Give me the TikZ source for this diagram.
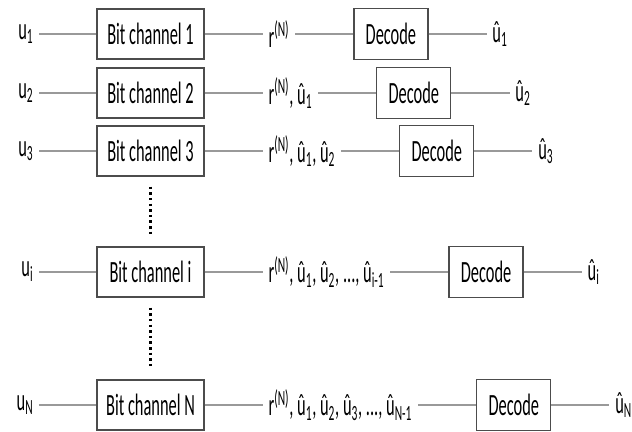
\documentclass[tikz,border=0pt]{standalone}
\usepackage{fontspec}
\setmainfont[FakeStretch=0.53]{Carlito}
\usetikzlibrary{positioning}

\tikzset{
  blk/.style={draw=black!70, line width=0.9pt, minimum width=2.675cm, minimum height=1.25cm, font=\fontsize{22}{24}\selectfont},
  decbox/.style={blk, minimum width=1.85cm, minimum height=1.275cm},
  lbl/.style={inner sep=4pt, font=\fontsize{22}{24}\selectfont},
  wire/.style={draw=black!40, line width=0.8pt},
  vdots/.style={line width=1.8pt, dash pattern=on 1.8pt off 2.2pt, shorten <=0.25cm, shorten >=0.28cm},
}

\begin{document}
\begin{tikzpicture}[x=0.025cm, y=-0.025cm]

\useasboundingbox (0,0) rectangle (632,432);

% 1st row
\node[blk] (bc1) at (150.5,34) {Bit channel 1};
\node[lbl, left=1.425cm of bc1] (u1) {u\textsubscript{1}};
\node[lbl, right=1.45cm of bc1] (r1) {r\textsuperscript{(N)}};
\node[decbox, right=1.45cm of r1] (dec1) {Decode};
\node[lbl, right=1.45cm of dec1] (o1) {û\textsubscript{1}};
\draw[wire] (u1) -- (bc1) -- (r1) -- (dec1) -- (o1);

% 2nd row
\node[blk] (bc2) at (150.5,93) {Bit channel 2};
\node[lbl, left=1.425cm of bc2] (u2) {u\textsubscript{2}};
\node[lbl, right=1.45cm of bc2] (r2) {r\textsuperscript{(N)}, û\textsubscript{1}};
\node[decbox, right=1.45cm of r2] (dec2) {Decode};
\node[lbl, right=1.45cm of dec2] (o2) {û\textsubscript{2}};
\draw[wire] (u2) -- (bc2) -- (r2) -- (dec2) -- (o2);

% 3rd row
\node[blk] (bc3) at (150.5,151) {Bit channel 3};
\node[lbl, left=1.425cm of bc3] (u3) {u\textsubscript{3}};
\node[lbl, right=1.45cm of bc3] (r3) {r\textsuperscript{(N)}, û\textsubscript{1}, û\textsubscript{2}};
\node[decbox, right=1.45cm of r3] (dec3) {Decode};
\node[lbl, right=1.45cm of dec3] (o3) {û\textsubscript{3}};
\draw[wire] (u3) -- (bc3) -- (r3) -- (dec3) -- (o3);

% i-th row
\node[blk] (bci) at (150.5,272) {Bit channel i};
\node[lbl, left=1.425cm of bci] (ui) {u\textsubscript{i}};
\node[lbl, right=1.45cm of bci] (ri) {r\textsuperscript{(N)}, û\textsubscript{1}, û\textsubscript{2}, ..., û\textsubscript{i-1}};
\node[decbox, right=1.45cm of ri] (deci) {Decode};
\node[lbl, right=1.45cm of deci] (oi) {û\textsubscript{i}};
\draw[wire] (ui) -- (bci) -- (ri) -- (deci) -- (oi);

% last row
\node[blk] (bcN) at (150.5,405) {Bit channel N};
\node[lbl, left=1.425cm of bcN] (uN) {u\textsubscript{N}};
\node[lbl, right=1.45cm of bcN] (rN) {r\textsuperscript{(N)}, û\textsubscript{1}, û\textsubscript{2}, û\textsubscript{3}, ..., û\textsubscript{N-1}};
\node[decbox, right=1.45cm of rN] (decN) {Decode};
\node[lbl, right=1.45cm of decN] (oN) {û\textsubscript{N}};
\draw[wire] (uN) -- (bcN) -- (rN) -- (decN) -- (oN);

% dots between the rows
\draw[vdots] (bc3) -- (bci);
\draw[vdots] (bci) -- (bcN);

\end{tikzpicture}
\end{document}
